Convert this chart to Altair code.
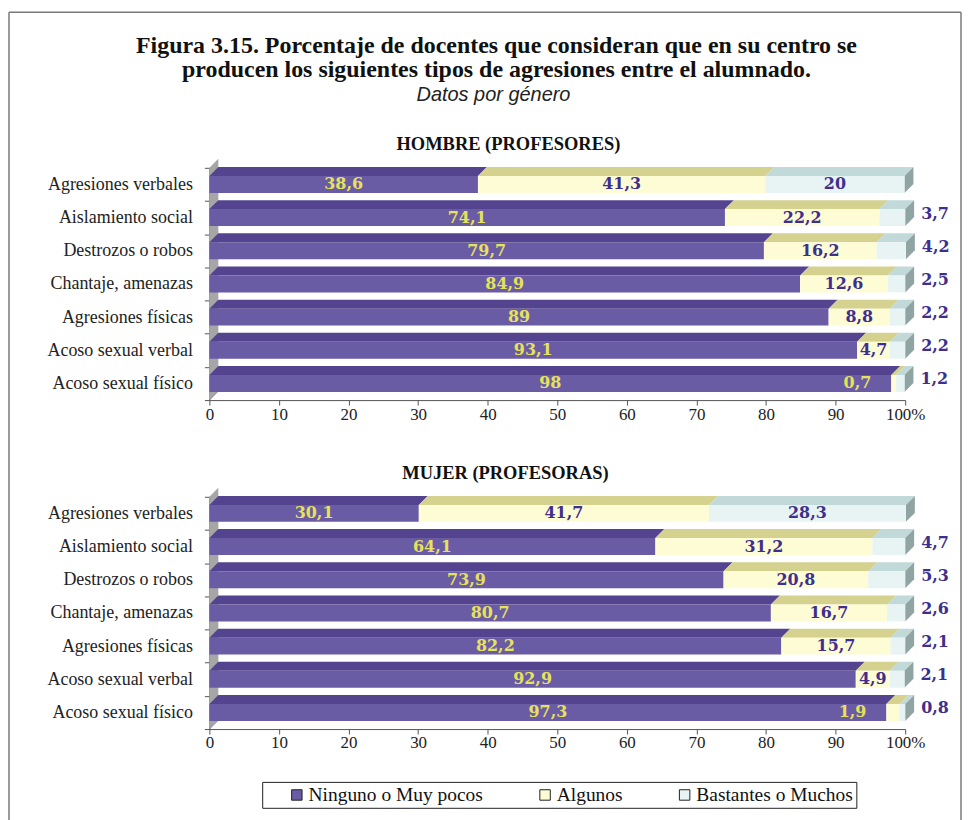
import altair as alt
import pandas as pd

# ---------------- data ----------------
CATEGORIES = ["Agresiones verbales", "Aislamiento social", "Destrozos o robos",
              "Chantaje, amenazas", "Agresiones físicas", "Acoso sexual verbal",
              "Acoso sexual físico"]
SERIES = ["Ninguno o Muy pocos", "Algunos", "Bastantes o Muchos"]

HOMBRE_NINGUNO = [38.6, 74.1, 79.7, 84.9, 89, 93.1, 98]
HOMBRE_ALGUNOS = [41.3, 22.2, 16.2, 12.6, 8.8, 4.7, 0.7]
HOMBRE_BASTANTES = [20, 3.7, 4.2, 2.5, 2.2, 2.2, 1.2]

MUJER_NINGUNO = [30.1, 64.1, 73.9, 80.7, 82.2, 92.9, 97.3]
MUJER_ALGUNOS = [41.7, 31.2, 20.8, 16.7, 15.7, 4.9, 1.9]
MUJER_BASTANTES = [28.3, 4.7, 5.3, 2.6, 2.1, 2.1, 0.8]

X_TICKS = [0, 10, 20, 30, 40, 50, 60, 70, 80, 90, 100]
TITLE_LINES = ["Figura 3.15. Porcentaje de docentes que consideran que en su centro se",
               "producen los siguientes tipos de agresiones entre el alumnado."]
SUBTITLE = "Datos por género"
PANEL_TITLES = ["HOMBRE (PROFESORES)", "MUJER (PROFESORAS)"]

# ---------------- styling ----------------
FRONT_COLORS = ["#6a5ba5", "#fefcd4", "#e8f3f4"]
TOP_COLORS = ["#54448f", "#d5d18f", "#c2d9da"]
TOP_KEYS = ["top0", "top1", "top2"]
SIDE_COLOR = "#90a5a3"
WALL_COLOR = "#a6a6a6"
YELLOW_TXT = "#e6e25a"
PURPLE_TXT = "#3e2f8e"
SERIF = "Liberation Serif"

W, H = 698, 233
N = len(CATEGORIES)
UX = W / 100.0
UY = H / N
HALF = 8.5 / UY
DX = 9 / UX
DY = 9 / UY


def fmt(v):
    return f"{v:g}".replace(".", ",")


def build(ninguno, algunos, bastantes):
    front, top, side, labels = [], [], [], []
    for r in range(N):
        vals = [ninguno[r], algunos[r], bastantes[r]]
        yc = r + 0.5
        yt, yb = yc - HALF, yc + HALF
        a = 0.0
        for s, v in enumerate(vals):
            b = a + v
            seg = f"{r}-{s}"
            front.append(dict(series=SERIES[s], a=a, b=b, y1=yt, y2=yb))
            for x in sorted([a, b, a + DX, b + DX]):
                t = min(max((x - a) / DX, 0.0), 1.0)
                u = min(max((x - b) / DX, 0.0), 1.0)
                top.append(dict(seg=seg, key=TOP_KEYS[s], x=x,
                                ya=yt - t * DY, yb=yt - u * DY))
            if s == 0:
                kind, lx = "in_yellow", (a + b) / 2
            elif s == 1:
                if v >= 3:
                    kind, lx = "in_purple", (a + b) / 2
                else:
                    kind, lx = "small_yellow", a
            else:
                if v >= 10:
                    kind, lx = "in_purple", (a + b) / 2
                else:
                    kind, lx = "out_purple", b
            labels.append(dict(kind=kind, x=lx, y=yc, text=fmt(v)))
            a = b
        side.append(dict(row=r, x=a, ya=yt, yb=yb))
        side.append(dict(row=r, x=a + DX, ya=yt - DY, yb=yb - DY))
    return (pd.DataFrame(front), pd.DataFrame(top), pd.DataFrame(side),
            pd.DataFrame(labels))


XS = alt.Scale(domain=[0, 100], nice=False, zero=False)
YS = alt.Scale(domain=[0, N], reverse=True, nice=False, zero=False)
cats_js = "[" + ",".join("'" + c + "'" for c in CATEGORIES) + "]"

XA = alt.Axis(values=X_TICKS, labelExpr="datum.value == 100 ? '100%' : datum.label",
              tickSize=5, labelPadding=1, labelFlush=False, labelOverlap=False,
              grid=False, domainColor="#555555", tickColor="#555555",
              labelFont=SERIF, labelFontSize=17, labelColor="#222222")
YA = alt.Axis(values=list(range(N + 1)),
              labelExpr=f"datum.value < {N} ? {cats_js}[datum.value] : ''",
              labelOffset=UY / 2, tickSize=5, labelPadding=12, labelFlush=False,
              labelOverlap=False, grid=False, domainColor="#555555",
              tickColor="#555555", labelFont=SERIF, labelFontSize=18,
              labelColor="#222222", labelAlign="right", labelBaseline="middle")


def X(f):
    return alt.X(f"{f}:Q", scale=XS, axis=XA, title=None)


def Y(f):
    return alt.Y(f"{f}:Q", scale=YS, axis=YA, title=None, stack=False)


def panel(ninguno, algunos, bastantes, title, title_x, extra=None):
    front, top, side, labels = build(ninguno, algunos, bastantes)

    wall = alt.Chart(pd.DataFrame({"x": [0, DX], "ya": [0, -DY], "yb": [N, N - DY]})
                     ).mark_area(orient="vertical", color=WALL_COLOR).encode(
        x=X("x"), y=Y("ya"), y2=alt.Y2("yb"))
    floor = alt.Chart(pd.DataFrame({"x": [0, DX], "y": [N, N - DY]})
                      ).mark_line(color="#888888", strokeWidth=1).encode(
        x=X("x"), y=Y("y"))

    tops = alt.Chart(top).mark_area(orient="vertical").encode(
        x=X("x"), y=Y("ya"), y2=alt.Y2("yb"), detail="seg:N",
        fill=alt.Fill("key:N", scale=alt.Scale(domain=TOP_KEYS, range=TOP_COLORS),
                      legend=None))
    sides = alt.Chart(side).mark_area(orient="vertical", color=SIDE_COLOR).encode(
        x=X("x"), y=Y("ya"), y2=alt.Y2("yb"), detail="row:N")
    fronts = alt.Chart(front).mark_rect().encode(
        x=X("a"), x2=alt.X2("b"), y=Y("y1"), y2=alt.Y2("y2"),
        color=alt.Color("series:N", scale=alt.Scale(domain=SERIES, range=FRONT_COLORS),
                        legend=alt.Legend(title=None, orient="none", legendX=53,
                                          legendY=616, direction="horizontal",
                                          columns=3)))

    def txt(kind, color, align, dx=0, dy=0):
        d = labels[labels["kind"] == kind]
        return alt.Chart(d).mark_text(font="DejaVu Serif", fontWeight="bold",
                                      fontSize=16, color=color, align=align,
                                      baseline="middle", dx=dx, dy=dy).encode(
            x=X("x"), y=Y("y"), text="text:N")

    ptitle = alt.Chart(pd.DataFrame({"t": [title]})).mark_text(
        font=SERIF, fontWeight="bold", fontSize=18.5, color="#111111",
        align="center", baseline="middle").encode(
        text="t:N", x=alt.value(title_x), y=alt.value(-24))

    layers = [wall, floor, tops, sides, fronts,
              txt("in_yellow", YELLOW_TXT, "center"),
              txt("in_purple", PURPLE_TXT, "center"),
              txt("small_yellow", YELLOW_TXT, "right", dx=-20),
              txt("out_purple", PURPLE_TXT, "left", dx=16, dy=-4),
              ptitle]
    if extra:
        layers += extra
    return alt.layer(*layers).properties(width=W, height=H)


one = pd.DataFrame({"k": [0]})
t1 = alt.Chart(pd.DataFrame({"t": [TITLE_LINES[0]]})).mark_text(
    font=SERIF, fontWeight="bold", fontSize=24, color="#111111",
    align="center", baseline="middle").encode(
    text="t:N", x=alt.value(288), y=alt.value(-122))
t2 = alt.Chart(pd.DataFrame({"t": [TITLE_LINES[1]]})).mark_text(
    font=SERIF, fontWeight="bold", fontSize=24, color="#111111",
    align="center", baseline="middle").encode(
    text="t:N", x=alt.value(288), y=alt.value(-98))
t3 = alt.Chart(pd.DataFrame({"t": [SUBTITLE]})).mark_text(
    font="Liberation Sans", fontStyle="italic", fontSize=20, color="#222222",
    align="center", baseline="middle").encode(
    text="t:N", x=alt.value(285), y=alt.value(-73))
frame_left = alt.Chart(one).mark_rule(color="#7a7a7a", strokeWidth=1.5).encode(
    x=alt.value(-201), y=alt.value(-156), y2=alt.value(680))
frame_top = alt.Chart(one).mark_rule(color="#7a7a7a", strokeWidth=1.5).encode(
    x=alt.value(-201), x2=alt.value(754), y=alt.value(-156))
frame_right = alt.Chart(one).mark_rule(color="#7a7a7a", strokeWidth=1.5).encode(
    x=alt.value(754), y=alt.value(-156), y2=alt.value(680))

top_panel = panel(HOMBRE_NINGUNO, HOMBRE_ALGUNOS, HOMBRE_BASTANTES, PANEL_TITLES[0], 300,
                  extra=[t1, t2, t3, frame_left, frame_top, frame_right])
bottom_panel = panel(MUJER_NINGUNO, MUJER_ALGUNOS, MUJER_BASTANTES, PANEL_TITLES[1], 297)

chart = alt.vconcat(top_panel, bottom_panel, spacing=97, bounds="flush").properties(
    padding={"left": 0, "top": 2, "right": 0, "bottom": 0},
    background="white",
).configure_view(strokeWidth=0).configure_legend(
    labelFont=SERIF, labelFontSize=19.5, labelColor="#111111", labelLimit=400,
    symbolType="square", symbolSize=110, symbolStrokeColor="#222222",
    symbolStrokeWidth=1, strokeColor="#222222", padding=3,
    symbolOffset=22, columnPadding=30, labelOffset=2, symbolOpacity=1,
)

chart.save("out.html", embed_options={"renderer": "svg", "actions": False})
